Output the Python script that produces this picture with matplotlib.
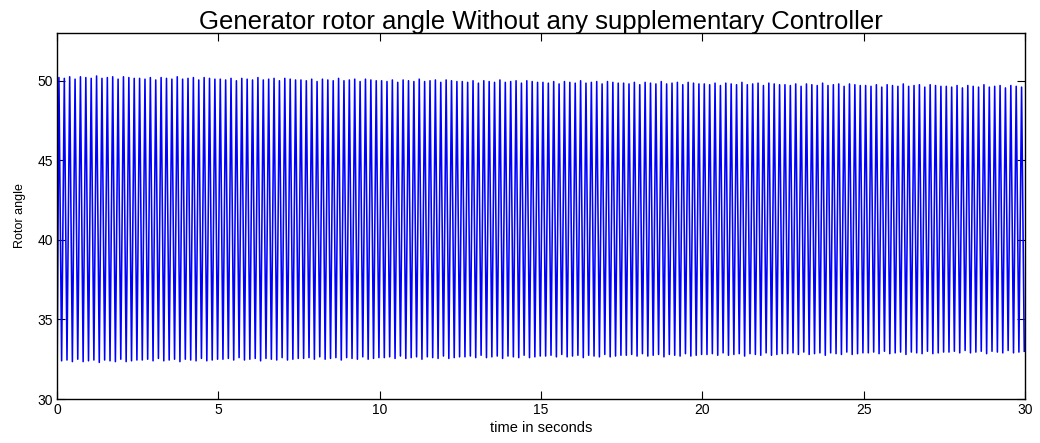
import numpy as np
import matplotlib
matplotlib.use("Agg")
import matplotlib.pyplot as plt

# ---- data ----
title = "Generator rotor angle Without any supplementary Controller"
xlabel = "time in seconds"
ylabel = "Rotor angle"
x_ticks = [0, 5, 10, 15, 20, 25, 30]
y_ticks = [30, 35, 40, 45, 50]
x_limits = (0, 30)
y_limits = (30, 53)

start_time = 0.0
start_value = 30.3
first_peak_time = 0.06
oscillation_freq = 6.0  # Hz (about 30 swings per 5 s)

peak_values = [
    50.2, 50.15, 50.25, 50.1, 50.25, 50.2, 50.15, 50.3, 50.15, 50.2, 50.25, 50.1, 50.25, 50.2, 50.15,
    50.15, 50.1, 50.2, 50.05, 50.2, 50.15, 50.1, 50.25, 50.1, 50.15, 50.2, 50.05, 50.2, 50.15, 50.1,
    50.1, 50.05, 50.15, 50.0, 50.15, 50.1, 50.05, 50.2, 50.05, 50.1, 50.15, 50.0, 50.15, 50.1, 50.05,
    50.05, 50.0, 50.1, 49.95, 50.1, 50.05, 50.0, 50.15, 50.0, 50.05, 50.1, 49.95, 50.1, 50.05, 50.0,
    50.0, 49.95, 50.05, 49.9, 50.05, 50.0, 49.95, 50.1, 49.95, 50.0, 50.05, 49.9, 50.05, 50.0, 49.95,
    49.95, 49.9, 50.0, 49.85, 50.0, 49.95, 49.9, 50.05, 49.9, 49.95, 50.0, 49.85, 50.0, 49.95, 49.9,
    49.9, 49.85, 49.95, 49.8, 49.95, 49.9, 49.85, 50.0, 49.85, 49.9, 49.95, 49.8, 49.95, 49.9, 49.85,
    49.85, 49.8, 49.9, 49.75, 49.9, 49.85, 49.8, 49.95, 49.8, 49.85, 49.9, 49.75, 49.9, 49.85, 49.8,
    49.8, 49.75, 49.85, 49.7, 49.85, 49.8, 49.75, 49.9, 49.75, 49.8, 49.85, 49.7, 49.85, 49.8, 49.75,
    49.75, 49.7, 49.8, 49.65, 49.8, 49.75, 49.7, 49.85, 49.7, 49.75, 49.8, 49.65, 49.8, 49.75, 49.7,
    49.7, 49.65, 49.75, 49.6, 49.75, 49.7, 49.65, 49.8, 49.65, 49.7, 49.75, 49.6, 49.75, 49.7, 49.65,
    49.65, 49.6, 49.7, 49.55, 49.7, 49.65, 49.6, 49.75, 49.6, 49.65, 49.7, 49.55, 49.7, 49.65, 49.6,
]

trough_values = [
    32.4, 32.45, 32.35, 32.5, 32.35, 32.4, 32.45, 32.3, 32.45, 32.4, 32.35, 32.5, 32.35, 32.4, 32.45,
    32.45, 32.5, 32.4, 32.55, 32.4, 32.45, 32.5, 32.35, 32.5, 32.45, 32.4, 32.55, 32.4, 32.45, 32.5,
    32.5, 32.55, 32.45, 32.6, 32.45, 32.5, 32.55, 32.4, 32.55, 32.5, 32.45, 32.6, 32.45, 32.5, 32.55,
    32.55, 32.6, 32.5, 32.65, 32.5, 32.55, 32.6, 32.45, 32.6, 32.55, 32.5, 32.65, 32.5, 32.55, 32.6,
    32.6, 32.65, 32.55, 32.7, 32.55, 32.6, 32.65, 32.5, 32.65, 32.6, 32.55, 32.7, 32.55, 32.6, 32.65,
    32.65, 32.7, 32.6, 32.75, 32.6, 32.65, 32.7, 32.55, 32.7, 32.65, 32.6, 32.75, 32.6, 32.65, 32.7,
    32.7, 32.75, 32.65, 32.8, 32.65, 32.7, 32.75, 32.6, 32.75, 32.7, 32.65, 32.8, 32.65, 32.7, 32.75,
    32.75, 32.8, 32.7, 32.85, 32.7, 32.75, 32.8, 32.65, 32.8, 32.75, 32.7, 32.85, 32.7, 32.75, 32.8,
    32.8, 32.85, 32.75, 32.9, 32.75, 32.8, 32.85, 32.7, 32.85, 32.8, 32.75, 32.9, 32.75, 32.8, 32.85,
    32.85, 32.9, 32.8, 32.95, 32.8, 32.85, 32.9, 32.75, 32.9, 32.85, 32.8, 32.95, 32.8, 32.85, 32.9,
    32.9, 32.95, 32.85, 33.0, 32.85, 32.9, 32.95, 32.8, 32.95, 32.9, 32.85, 33.0, 32.85, 32.9, 32.95,
    32.95, 33.0, 32.9, 33.05, 32.9, 32.95, 33.0, 32.85, 33.0, 32.95, 32.9, 33.05, 32.9, 32.95, 33.0,
]

# ---- assemble the zig-zag signal (peak, trough, peak, ...) ----
period = 1.0 / oscillation_freq
n = len(peak_values)
peak_t = first_peak_time + np.arange(n) * period
trough_t = peak_t + period / 2
t = np.empty(2 * n + 1)
y = np.empty(2 * n + 1)
t[0], y[0] = start_time, start_value
t[1::2], y[1::2] = peak_t, peak_values
t[2::2], y[2::2] = trough_t, trough_values

plt.rcParams['font.family'] = ['Liberation Sans', 'DejaVu Sans']

fig = plt.figure(figsize=(10.4, 4.43), dpi=100)
ax = fig.add_axes([0.0548, 0.0993, 0.9308, 0.8262])
ax.plot(t, y, color=(0, 0, 1), linewidth=1.15, clip_on=True)

ax.set_xlim(*x_limits)
ax.set_ylim(*y_limits)
ax.set_xticks(x_ticks)
ax.set_yticks(y_ticks)
ax.tick_params(direction='in', length=6, width=0.8, top=True, right=True,
               labelsize=10, pad=3, colors='black')
for s in ax.spines.values():
    s.set_linewidth(1.0)
    s.set_color('black')

ax.set_title(title, fontsize=18.5, pad=3)
ax.set_xlabel(xlabel, fontsize=10.5, labelpad=3)
ax.set_ylabel(ylabel, fontsize=9, labelpad=8)

fig.savefig("out.png", dpi=100)
